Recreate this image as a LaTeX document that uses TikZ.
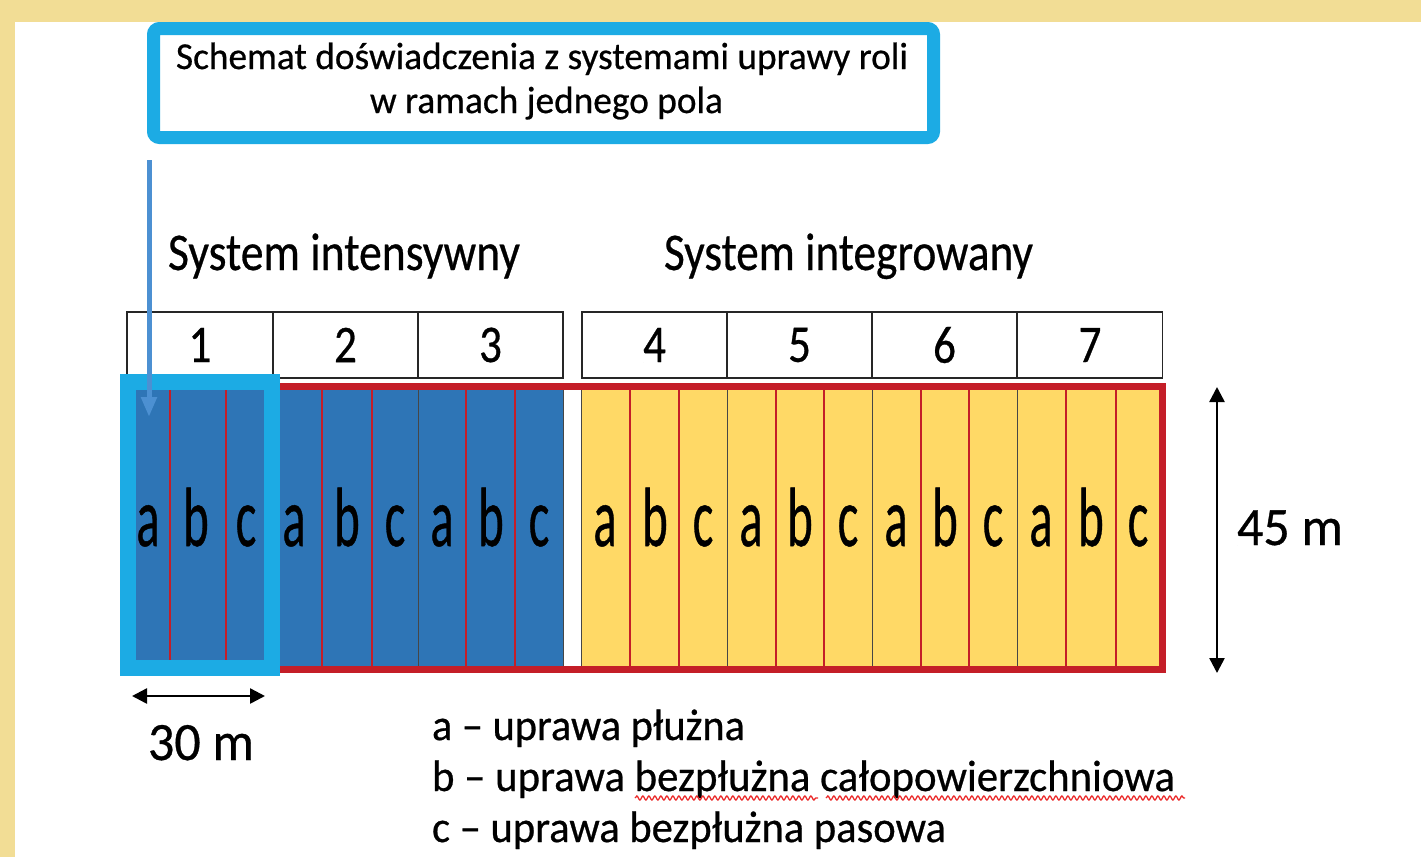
\documentclass[tikz,border=0pt]{standalone}
\usepackage{fontspec}
\setmainfont{Carlito}[FakeBold=0.6]
\usepackage{graphicx}
\usetikzlibrary{arrows.meta,decorations.pathmorphing}

\definecolor{pagegold}{RGB}{242,221,149}
\definecolor{framecyan}{RGB}{28,171,228}
\definecolor{plotblue}{RGB}{46,117,182}
\definecolor{plotyellow}{RGB}{255,217,102}
\definecolor{fieldred}{RGB}{196,30,40}
\definecolor{pointerblue}{RGB}{76,144,210}
\definecolor{spellred}{RGB}{235,40,40}
\definecolor{edgegrey}{RGB}{70,70,70}

% scale a text horizontally to a given width, keeping its height
\newcommand\fitw[2]{\resizebox{#1}{\height}{#2}}

\begin{document}
\begin{tikzpicture}[x=1pt,y=-1pt,
  txt/.style={inner sep=0pt, outer sep=0pt, anchor=base west},
  numbox/.style={draw=black!85, line width=1.8pt, minimum height=66pt,
    inner sep=0pt, font=\fontsize{53}{53}\selectfont},
  plotletter/.style={inner sep=0pt, anchor=base, font=\fontsize{84}{84}\selectfont},
  bluegroup/.style={fill=plotblue, draw=edgegrey, line width=0.8pt},
  yellowgroup/.style={fill=plotyellow, draw=edgegrey, line width=0.8pt},
  divider/.style={fieldred, line width=2pt},
  dimarrow/.style={black, line width=2.5pt, {Triangle[width=15pt,length=15pt]}-{Triangle[width=15pt,length=15pt]}},
  squiggle/.style={spellred, line width=1.3pt, decorate,
    decoration={snake, amplitude=2pt, segment length=6pt}}]

\useasboundingbox (0,0) rectangle (1421,857);
\fill[white] (0,0) rectangle (1421,857);
\fill[pagegold] (0,0) rectangle (1421,22);
\fill[pagegold] (0,0) rectangle (15,857);

% title box
\node[draw=framecyan, line width=13pt, rounded corners=6pt, fill=white,
  minimum width=780pt, minimum height=109pt, inner sep=0pt] (title) at (543.5,83) {};
\node[txt, anchor=base, font=\fontsize{38}{38}\selectfont] (title1) at (542,69)
  {\fitw{732pt}{Schemat doświadczenia z systemami uprawy roli}};
\node[txt, anchor=base, font=\fontsize{38}{38}\selectfont] (title2) at (546.5,113)
  {\fitw{353pt}{w ramach jednego pola}};

% system headings
\node[txt, font=\fontsize{53}{53}\selectfont] (sysint) at (168,270) {\fitw{352pt}{System intensywny}};
\node[txt, font=\fontsize{53}{53}\selectfont] (sysintg) at (664,270) {\fitw{369pt}{System integrowany}};

% numbered plot headers
\node[numbox, minimum width=145.5pt] (n1) at (200,345) {\scalebox{0.85}[1]{1}};
\node[numbox, minimum width=145.5pt] (n2) at (345.5,345) {\scalebox{0.85}[1]{2}};
\node[numbox, minimum width=145.5pt] (n3) at (490.5,345) {\scalebox{0.85}[1]{3}};
\node[numbox, minimum width=145pt] (n4) at (654.5,345) {\scalebox{0.85}[1]{4}};
\node[numbox, minimum width=145pt] (n5) at (799.5,345) {\scalebox{0.85}[1]{5}};
\node[numbox, minimum width=145pt] (n6) at (944.5,345) {\scalebox{0.85}[1]{6}};
\node[numbox, minimum width=145pt] (n7) at (1090,345) {\scalebox{0.85}[1]{7}};

% plot groups
\filldraw[bluegroup] (127,388) rectangle (273,668);
\filldraw[bluegroup] (273,388) rectangle (418,668);
\filldraw[bluegroup] (418,388) rectangle (563,668);
\filldraw[yellowgroup] (581,388) rectangle (727,668);
\filldraw[yellowgroup] (727,388) rectangle (872,668);
\filldraw[yellowgroup] (872,388) rectangle (1017,668);
\filldraw[yellowgroup] (1017,388) rectangle (1162,668);

% strip dividers
\foreach \xx in {170,226,322,372,466,515,630,679,776,824,921,969,1066,1116}
  \draw[divider] (\xx,388) -- (\xx,668);

% field outline
\draw[fieldred, line width=7pt] (130.5,386.5) rectangle (1162.5,669.5);

% strip letters
\foreach \xx/\ll in {148/a,196/b,246/c,294/a,347/b,395/c,442/a,491/b,539/c,
  605/a,655/b,703/c,751/a,800/b,848/c,896/a,945/b,993/c,1041/a,1091/b,1138/c}
  \node[plotletter] at (\xx,546) {\scalebox{0.58}[1]{\ll}};

% highlight frame around plot 1
\draw[framecyan, line width=16pt] (128,382) rectangle (272,668);

% pointer from the title to plot 1
\coordinate (ptrtop) at (149,160);
\coordinate (ptrtip) at (149,417);
\draw[pointerblue, line width=5pt, -{Triangle[width=15pt,length=20pt]}] (ptrtop) -- (ptrtip);

% dimensions
\coordinate (htop) at (1217,387);
\coordinate (hbot) at (1217,673);
\draw[dimarrow] (htop) -- (hbot);
\node[txt, font=\fontsize{54}{54}\selectfont] (h45) at (1237,545) {\fitw{106pt}{45 m}};

\coordinate (wleft) at (132,696);
\coordinate (wright) at (265,696);
\draw[dimarrow] (wleft) -- (wright);
\node[txt, font=\fontsize{54}{54}\selectfont] (w30) at (148,760) {\fitw{106pt}{30 m}};

% legend
\node[txt, font=\fontsize{44}{44}\selectfont] (lega) at (432,740) {\fitw{313pt}{a – uprawa płużna}};
\node[txt, font=\fontsize{44}{44}\selectfont] (legb) at (432,791) {\fitw{743pt}{b – uprawa bezpłużna całopowierzchniowa}};
\node[txt, font=\fontsize{44}{44}\selectfont] (legc) at (432,842) {\fitw{514pt}{c – uprawa bezpłużna pasowa}};
\draw[squiggle] (635,798) -- (818,798);
\draw[squiggle] (826,798) -- (1185,798);

\end{tikzpicture}
\end{document}
